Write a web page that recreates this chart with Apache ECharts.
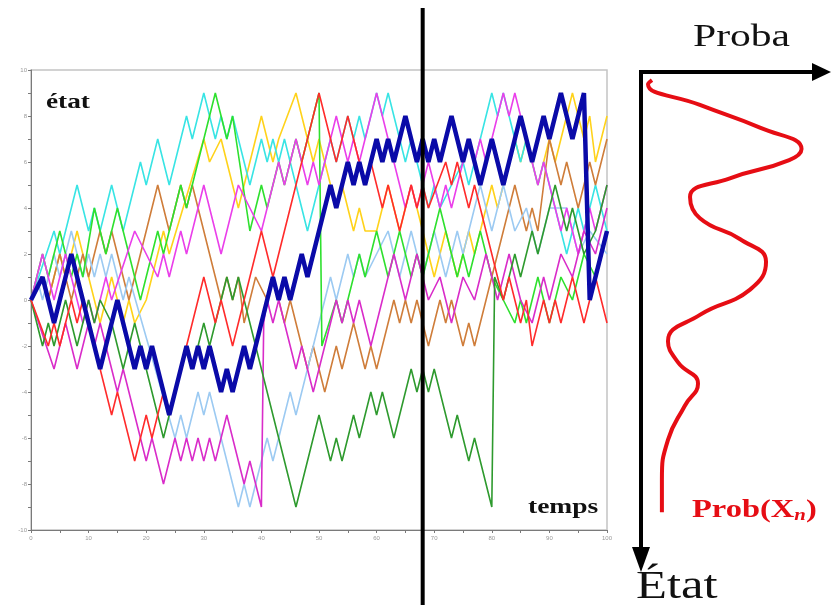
<!DOCTYPE html>
<html>
<head>
<meta charset="utf-8">
<script src="https://cdn.jsdelivr.net/npm/echarts@6/dist/echarts.min.js"></script>
<style>html,body{margin:0;padding:0;background:#fff}#c{width:831px;height:609px}</style>
</head>
<body>
<div id="c"></div>
<script>
// ---- DATA (turning points [time, state]) ----
var xTicks = [0,10,20,30,40,50,60,70,80,90,100];
var yTicks = [-10,-8,-6,-4,-2,0,2,4,6,8,10];
var cutTime = 68;

var walkBlue = [[0,0],[2,1],[4,-1],[7,2],[12,-3],[15,0],[18,-3],[19,-2],[20,-3],[21,-2],[24,-5],[27,-2],[28,-3],[29,-2],[30,-3],[31,-2],[33,-4],[34,-3],[35,-4],[37,-2],[38,-3],[42,1],[43,0],[44,1],[45,0],[47,2],[48,1],[52,5],[53,4],[55,6],[56,5],[57,6],[58,5],[60,7],[61,6],[62,7],[63,6],[65,8],[67,6],[68,7],[69,6],[70,7],[71,6],[73,8],[75,6],[76,7],[78,5],[80,7],[82,5],[85,8],[87,6],[89,8],[90,7],[92,9],[94,7],[96,9],[97,0],[100,3]];
var walkDarkGreen = [[0,0],[2,-2],[3,-1],[4,-2],[6,0],[8,-2],[10,0],[11,-1],[12,0],[14,-1],[16,-3],[18,-1],[23,-6],[27,-2],[28,-3],[30,-1],[31,-2],[34,1],[35,0],[36,1],[37,0],[46,-9],[50,-5],[52,-7],[53,-6],[54,-7],[56,-5],[57,-6],[59,-4],[60,-5],[61,-4],[63,-6],[66,-3],[67,-4],[68,-3],[69,-4],[70,-3],[73,-6],[74,-5],[76,-7],[77,-6],[80,-9],[80.5,1],[82,0],[84,2],[85,1],[87,3],[88,2],[91,5],[93,3],[94,4],[96,2],[98,3],[100,5]];
var walkGreen = [[0,0],[2,2],[3,1],[5,3],[7,1],[8,2],[9,1],[11,4],[13,2],[15,4],[19,0],[22,3],[23,2],[26,5],[27,4],[32,9],[34,7],[35,8],[38,3],[40,5],[41,4],[43,6],[44,5],[46,7],[47,6],[50,9],[50.5,-2],[53,0],[54,-1],[57,2],[58,1],[60,3],[62,1],[64,3],[66,1],[67,2],[68,1],[71,4],[74,1],[75,2],[76,1],[78,3],[80,1],[84,-1],[85,0],[86,-1],[88,1],[90,-1],[92,1],[94,0],[96,2],[98,1],[100,3]];
var walkCyan = [[0,0],[4,3],[5,2],[8,5],[10,3],[11,4],[12,3],[14,5],[16,3],[19,6],[20,5],[22,7],[24,5],[27,8],[28,7],[30,9],[32,7],[33,8],[34,7],[35,8],[38,5],[40,7],[41,6],[42,7],[43,6],[44,7],[48,3],[52,7],[53,6],[55,8],[56,7],[57,8],[58,7],[60,9],[61,8],[62,9],[65,6],[66,7],[69,4],[70,5],[71,4],[75,6],[76,5],[80,9],[81,8],[82,9],[85,6],[86,7],[88,5],[89,6],[93,2],[95,4],[96,3],[98,5],[100,3]];
var walkRed = [[0,0],[3,-2],[4,-1],[5,-2],[7,0],[8,-1],[9,0],[14,-5],[15,-4],[18,-7],[20,-5],[21,-6],[23,-4],[24,-5],[30,1],[32,-1],[33,0],[35,-2],[40,3],[42,1],[50,9],[53,6],[55,8],[58,5],[59,6],[61,4],[62,5],[64,3],[66,5],[67,4],[68,5],[69,4],[72,6],[73,5],[74,6],[76,4],[77,5],[82,0],[83,1],[85,-1],[86,0],[87,-2],[89,0],[90,-1],[91,0],[92,-1],[94,1],[96,-1],[98,1],[100,-1]];
var walkMagentaLow = [[0,0],[4,-3],[6,-1],[8,-3],[10,-1],[11,-2],[12,-1],[15,-4],[16,-3],[20,-7],[21,-6],[23,-8],[25,-6],[26,-7],[27,-6],[28,-7],[29,-6],[30,-7],[31,-6],[32,-7],[34,-5],[37,-8],[38,-7],[40,-9],[40.4,-1],[41,0],[42,-1],[43,0],[46,-3],[47,-2],[49,-4],[53,0],[54,-1],[55,0],[56,-1],[57,0],[59,-2],[61,0],[63,2],[65,0],[67,2],[69,0],[71,1],[73,-1],[75,1],[77,0],[79,2],[81,0],[83,2],[85,0],[87,-1],[89,1],[90,0],[92,2],[94,1],[96,3],[98,2],[100,4]];
var walkMagentaHigh = [[0,0],[2,2],[4,0],[6,2],[9,-1],[10,0],[11,-1],[13,1],[14,0],[18,3],[22,1],[23,2],[24,1],[26,3],[27,2],[30,5],[33,2],[36,5],[40,3],[43,6],[44,5],[45,6],[46,7],[48,5],[49,6],[50,5],[53,8],[55,6],[56,7],[57,6],[60,9],[65,4],[66,5],[67,4],[69,6],[71,4],[72,5],[73,4],[76,7],[77,6],[78,7],[79,6],[82,9],[83,8],[84,9],[88,5],[89,6],[92,3],[93,4],[95,2],[97,4],[98,3],[100,5]];
var walkYellow = [[0,0],[2,1],[3,0],[5,2],[6,1],[8,3],[11,0],[12,-1],[14,1],[16,-1],[17,0],[18,-1],[20,0],[23,3],[24,2],[30,7],[31,6],[33,7],[36,4],[40,8],[42,6],[43,7],[46,9],[49,6],[50,7],[53,4],[54,5],[56,3],[57,4],[58,3],[60,3],[62,5],[64,3],[66,5],[68,3],[70,1],[72,3],[74,1],[76,3],[77,2],[80,5],[81,4],[84,7],[85,6],[86,7],[88,5],[90,7],[91,6],[94,9],[96,7],[97,8],[98,6],[100,8]];
var walkBrown = [[0,0],[2,1],[3,0],[5,2],[7,0],[9,2],[10,1],[12,3],[13,2],[14,3],[17,0],[22,5],[24,3],[26,5],[27,4],[28,5],[32,1],[33,0],[34,1],[35,0],[36,1],[37,-1],[39,1],[41,0],[42,1],[44,-1],[45,0],[48,-3],[49,-2],[51,-4],[53,-2],[54,-3],[56,-1],[58,-3],[59,-2],[60,-3],[63,0],[64,-1],[65,0],[66,-1],[67,0],[69,-2],[71,0],[72,-1],[73,0],[75,-2],[76,-1],[77,-2],[84,5],[86,3],[87,4],[88,3],[90,7],[92,5],[93,6],[95,4],[97,6],[98,5],[100,7]];
var walkLightBlue = [[0,0],[1,1],[2,0],[4,2],[5,1],[7,3],[9,1],[10,2],[11,1],[12,2],[13,1],[14,2],[16,0],[17,1],[25,-6],[26,-5],[27,-6],[29,-4],[30,-5],[31,-4],[36,-9],[37,-8],[38,-9],[41,-6],[42,-7],[45,-4],[46,-5],[52,1],[53,0],[55,2],[56,1],[57,2],[58,1],[62,3],[64,1],[66,3],[68,1],[70,3],[72,1],[74,3],[75,2],[78,5],[80,3],[82,5],[84,3],[86,4],[88,2],[90,4],[93,4],[95,2],[97,3],[100,2]];

// probability curve drawn on the right panel: [proba, state position]
var probCurve = [[5.8,1.6],[3.7,2.4],[31,6.5],[62.6,11],[84.5,15.2],[78,17.4],[46.8,21],[25.8,24.7],[31,28.9],[52,33],[65.8,37.5],[57.4,43],[31,48],[14.2,53.2],[19.5,57.4],[30,61.6],[23,66],[14.2,72.7],[11,80.6],[11,87]];

var chart = echarts.init(document.getElementById('c'), null, {renderer:'canvas'});
var serifFont = '"Liberation Serif","DejaVu Serif",serif';
var probRed = '#e60d14';

function walk(name, data, color, width) {
  return {name:name, type:'line', data:data, xAxisIndex:0, yAxisIndex:0,
    showSymbol:false, symbol:'none', lineStyle:{color:color, width:width}, z: width>3?5:3,
    emphasis:{disabled:true}};
}

var option = {
  animation:false,
  backgroundColor:'#ffffff',
  grid:[
    {left:31, top:70, width:576, height:460, show:true, borderColor:'#c4c4c4', borderWidth:1.5, backgroundColor:'transparent'},
    {left:641, top:72, width:190, height:506, show:false}
  ],
  xAxis:[
    {type:'value', gridIndex:0, min:0, max:100, interval:10,
     axisLine:{onZero:false, lineStyle:{color:'#7a7a7a', width:1}},
     axisTick:{show:true, length:3, lineStyle:{color:'#7a7a7a'}},
     minorTick:{show:true, splitNumber:2, length:3, lineStyle:{color:'#7a7a7a'}},
     splitLine:{show:false},
     axisLabel:{fontSize:6, color:'#999', margin:5, formatter:function(v){return xTicks.indexOf(v)>=0?String(v):'';}}},
    {type:'value', gridIndex:1, min:0, max:100, show:false}
  ],
  yAxis:[
    {type:'value', gridIndex:0, min:-10, max:10, interval:2,
     axisLine:{onZero:false, lineStyle:{color:'#7a7a7a', width:1}},
     axisTick:{show:true, length:3, lineStyle:{color:'#7a7a7a'}},
     minorTick:{show:true, splitNumber:2, length:3, lineStyle:{color:'#7a7a7a'}},
     splitLine:{show:false},
     axisLabel:{fontSize:6, color:'#999', margin:4, formatter:function(v){return yTicks.indexOf(v)>=0?String(v):'';}}},
    {type:'value', gridIndex:1, min:0, max:100, inverse:true, show:false}
  ],
  series:[
    walk('jaune', walkYellow, '#ffd21a', 1.6),
    walk('cyan', walkCyan, '#38e4e4', 1.6),
    walk('marron', walkBrown, '#cf7d3a', 1.6),
    walk('bleu clair', walkLightBlue, '#9ccaf2', 1.6),
    walk('vert', walkGreen, '#2ee02e', 1.6),
    walk('magenta haut', walkMagentaHigh, '#ea3fea', 1.6),
    walk('magenta bas', walkMagentaLow, '#d92cc9', 1.6),
    walk('vert foncé', walkDarkGreen, '#2e9a2e', 1.6),
    walk('rouge', walkRed, '#ff2b2b', 1.6),
    walk('bleu', walkBlue, '#0a0aa8', 4.5),
    {name:'Prob', type:'line', xAxisIndex:1, yAxisIndex:1, data:probCurve, smooth:0.5,
     showSymbol:false, symbol:'none', lineStyle:{color:probRed, width:4}, z:4}
  ]
};
chart.setOption(option);

var cx = chart.convertToPixel({gridIndex:0}, [cutTime, 0])[0];
var ax0 = chart.convertToPixel({gridIndex:1}, [0, 0]);
chart.setOption({
  graphic:[
    {type:'line', shape:{x1:cx, y1:8, x2:cx, y2:605}, style:{stroke:'#000', lineWidth:4}, z:100},
    {type:'line', shape:{x1:ax0[0], y1:ax0[1], x2:815, y2:ax0[1]}, style:{stroke:'#000', lineWidth:4}, z:100},
    {type:'polygon', shape:{points:[[812,ax0[1]-9],[831,ax0[1]],[812,ax0[1]+9]]}, style:{fill:'#000'}, z:100},
    {type:'line', shape:{x1:ax0[0], y1:ax0[1]-2, x2:ax0[0], y2:550}, style:{stroke:'#000', lineWidth:4}, z:100},
    {type:'polygon', shape:{points:[[ax0[0]-9,547],[ax0[0],572],[ax0[0]+9,547]]}, style:{fill:'#000'}, z:100},
    {type:'text', x:46, y:92, scaleX:1.3, style:{text:'état', font:'bold 21px '+serifFont, fill:'#111', verticalAlign:'top'}, z:100},
    {type:'text', x:528, y:496, scaleX:1.25, style:{text:'temps', font:'bold 22px '+serifFont, fill:'#111', verticalAlign:'top'}, z:100},
    {type:'text', x:693, y:22, scaleX:1.3, style:{text:'Proba', font:'32px '+serifFont, fill:'#111', verticalAlign:'top'}, z:100},
    {type:'text', x:636, y:568, scaleX:1.3, style:{text:'État', font:'39px '+serifFont, fill:'#111', verticalAlign:'top'}, z:100},
    {type:'text', x:692, y:498, scaleX:1.3, style:{
      fill:probRed,
      rich:{a:{fontFamily:serifFont, fontWeight:'bold', fontSize:25, fill:probRed},
            s:{fontFamily:serifFont, fontWeight:'bold', fontStyle:'italic', fontSize:16, fill:probRed, padding:[10,0,0,0]}},
      text:'{a|Prob(X}{s|n}{a|)}', verticalAlign:'top'}, z:100}
  ]
});
</script>
</body>
</html>
